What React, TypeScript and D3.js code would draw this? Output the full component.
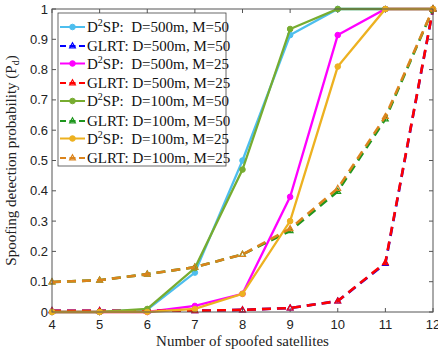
import React from "react"
import * as d3 from "d3"

const satellites = [4, 5, 6, 7, 8, 9, 10, 11, 12]
const yTicks = [0, 0.1, 0.2, 0.3, 0.4, 0.5, 0.6, 0.7, 0.8, 0.9, 1]

const d2sp500m50 = [0, 0, 0.008, 0.13, 0.5, 0.914, 1, 1, 1]
const glrt500m50 = [0.004, 0.004, 0.004, 0.004, 0.007, 0.013, 0.036, 0.16, 1]
const d2sp500m25 = [0, 0, 0, 0.02, 0.06, 0.38, 0.914, 1, 1]
const glrt500m25 = [0.004, 0.004, 0.004, 0.004, 0.007, 0.013, 0.036, 0.163, 1]
const d2sp100m50 = [0, 0, 0.01, 0.145, 0.47, 0.934, 1, 1, 1]
const glrt100m50 = [0.099, 0.105, 0.125, 0.148, 0.19, 0.268, 0.398, 0.637, 1]
const d2sp100m25 = [0, 0, 0, 0.01, 0.06, 0.3, 0.81, 1, 1]
const glrt100m25 = [0.099, 0.105, 0.125, 0.148, 0.19, 0.275, 0.408, 0.645, 1]

const series = [
  { kind: "D2SP", label: "D=500m, M=50", values: d2sp500m50, color: "#4DBEEE" },
  { kind: "GLRT", label: "D=500m, M=50", values: glrt500m50, color: "#0000FF" },
  { kind: "D2SP", label: "D=500m, M=25", values: d2sp500m25, color: "#FF00FF" },
  { kind: "GLRT", label: "D=500m, M=25", values: glrt500m25, color: "#FF0000" },
  { kind: "D2SP", label: "D=100m, M=50", values: d2sp100m50, color: "#77AC30" },
  { kind: "GLRT", label: "D=100m, M=50", values: glrt100m50, color: "#1E961E" },
  { kind: "D2SP", label: "D=100m, M=25", values: d2sp100m25, color: "#EDB120" },
  { kind: "GLRT", label: "D=100m, M=25", values: glrt100m25, color: "#DB841C" },
]

const W = 438
const H = 353
const left = 52
const right = 433
const top = 9
const bottom = 312

function Marker({ kind, x, y, color }: { kind: string; x: number; y: number; color: string }) {
  if (kind === "D2SP") return <circle cx={x} cy={y} r={2.8} fill={color} stroke={color} />
  const s = 3.2
  return (
    <path
      d={`M${x},${y - s} L${x + s * 0.9},${y + s * 0.6} L${x - s * 0.9},${y + s * 0.6} Z`}
      fill="none"
      stroke={color}
      strokeWidth={1.2}
    />
  )
}

export default function App() {
  const x = d3.scaleLinear().domain([4, 12]).range([left, right])
  const y = d3.scaleLinear().domain([0, 1]).range([bottom, top])

  const line = d3.line<number>()
    .x((_, i) => x(satellites[i]))
    .y(d => y(d))

  const tickFont = "'Liberation Sans', Arial, sans-serif"
  const serif = "'Liberation Serif', 'Times New Roman', serif"

  const legX = 58
  const legY = 13
  const legW = 168
  const legH = 153
  const rowY = [27, 46, 63.5, 83, 101, 121, 138.5, 158]

  return (
    <svg width={W} height={H} style={{ position: "absolute", left: 0, top: 0, background: "#fff" }}>
      <rect x={0} y={0} width={W} height={H} fill="#fff" />

      {/* ticks */}
      {satellites.map(t => (
        <g key={"xt" + t}>
          <line x1={x(t)} x2={x(t)} y1={bottom} y2={bottom - 4} stroke="#555" />
          <line x1={x(t)} x2={x(t)} y1={top} y2={top + 4} stroke="#555" />
          <text x={x(t)} y={bottom + 17} textAnchor="middle" fontFamily={tickFont} fontSize={13} fill="#222">{t}</text>
        </g>
      ))}
      {yTicks.map(t => (
        <g key={"yt" + t}>
          <line x1={left} x2={left + 4} y1={y(t)} y2={y(t)} stroke="#555" />
          <line x1={right} x2={right - 4} y1={y(t)} y2={y(t)} stroke="#555" />
          <text x={left - 4} y={y(t) + 4.5} textAnchor="end" fontFamily={tickFont} fontSize={13} fill="#222">{t}</text>
        </g>
      ))}

      {/* series */}
      {series.map((s, i) => (
        <g key={i}>
          <path
            d={line(s.values) ?? ""}
            fill="none"
            stroke={s.color}
            strokeWidth={s.kind === "D2SP" ? 2.3 : 2.6}
            strokeDasharray={s.kind === "GLRT" ? "9 6" : undefined}
          />
          {s.values.map((v, j) => (
            <Marker key={j} kind={s.kind} x={x(satellites[j])} y={y(v)} color={s.color} />
          ))}
        </g>
      ))}

      <rect x={left} y={top} width={right - left} height={bottom - top} fill="none" stroke="#555" strokeWidth={1} />

      {/* legend */}
      <rect x={legX} y={legY} width={legW} height={legH} fill="#fff" stroke="#444" strokeWidth={0.8} />
      {series.map((s, i) => {
        const ry = rowY[i]
        return (
          <g key={"lg" + i}>
            <line
              x1={legX + 2}
              x2={legX + 27}
              y1={ry}
              y2={ry}
              stroke={s.color}
              strokeWidth={2}
              strokeDasharray={s.kind === "GLRT" ? "6 3.5" : undefined}
            />
            <Marker kind={s.kind} x={legX + 14.5} y={ry} color={s.color} />
            {s.kind === "D2SP" ? (
              <text x={legX + 29} y={ry + 5} fontFamily={serif} fontSize={15} fill="#111" xmlSpace="preserve">
                D<tspan fontSize={10} dy={-6}>2</tspan><tspan dy={6}>SP:  D=</tspan>{s.label.slice(2)}
              </text>
            ) : (
              <text x={legX + 29} y={ry + 5} fontFamily={serif} fontSize={15} fill="#111" xmlSpace="preserve">
                {"GLRT: " + s.label}
              </text>
            )}
          </g>
        )
      })}

      {/* axis labels */}
      <text x={(left + right) / 2} y={346} textAnchor="middle" fontFamily={serif} fontSize={15} fill="#222">
        Number of spoofed satellites
      </text>
      <text
        transform={`translate(16, ${(top + bottom) / 2}) rotate(-90)`}
        textAnchor="middle"
        fontFamily={serif}
        fontSize={15}
        fill="#222"
      >
        Spoofing detection probability (P<tspan fontSize={10} dy={3}>d</tspan><tspan dy={-3}>)</tspan>
      </text>
    </svg>
  )
}
